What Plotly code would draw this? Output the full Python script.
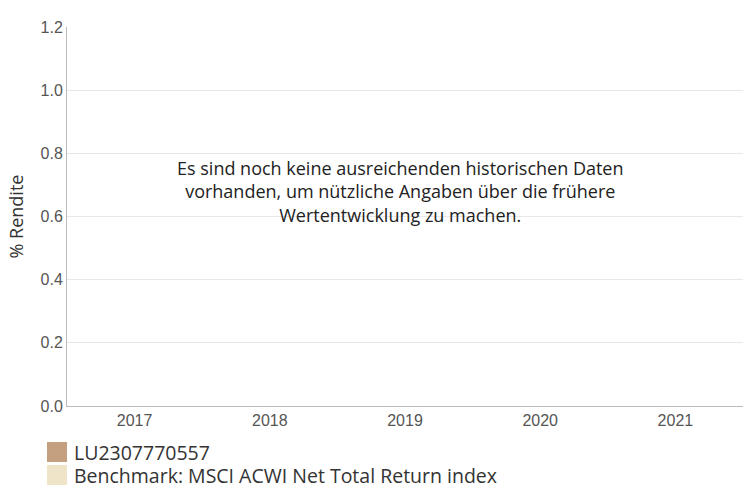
import plotly.graph_objects as go

years = ["2017", "2018", "2019", "2020", "2021"]
fund_values = [None, None, None, None, None]
bench_values = [None, None, None, None, None]
series_names = ["LU2307770557", "Benchmark: MSCI ACWI Net Total Return index"]
series_colors = ["#c4a080", "#efe4c8"]
y_ticks = [0.0, 0.2, 0.4, 0.6, 0.8, 1.0, 1.2]
message = ("Es sind noch keine ausreichenden historischen Daten<br>"
           "vorhanden, um nützliche Angaben über die frühere<br>"
           "Wertentwicklung zu machen.")

W, H = 744, 487
ML, MR, MT, MB = 67, 1, 27, 81
PW, PH = W - ML - MR, H - MT - MB


def px_x(px):
    return (px - ML) / PW


def px_y(py):
    return (H - MB - py) / PH


fig = go.Figure()
for name, vals, col in zip(series_names, [fund_values, bench_values], series_colors):
    fig.add_trace(go.Bar(x=years, y=vals, name=name, marker_color=col, showlegend=False))

# legend drawn as swatches + text
for i, (name, col) in enumerate(zip(series_names, series_colors)):
    top = 442 + i * 23
    fig.add_shape(type="rect", xref="paper", yref="paper",
                  x0=px_x(47), x1=px_x(67), y0=px_y(top), y1=px_y(top + 20),
                  fillcolor=col, line=dict(width=0), layer="above")
    fig.add_annotation(xref="paper", yref="paper", x=px_x(73), y=px_y(top + 10),
                       text=name, showarrow=False, xanchor="left", yanchor="middle",
                       font=dict(size=19.5, color="#333"), borderpad=0)

fig.update_layout(
    width=W, height=H,
    margin=dict(l=ML, r=MR, t=MT, b=MB, autoexpand=False),
    paper_bgcolor="white", plot_bgcolor="white",
    font=dict(family="Open Sans, Noto Sans, sans-serif", color="#333"),
    showlegend=False,
    bargap=0.2,
)
fig.update_xaxes(
    type="category", range=[-0.5, 4.5],
    showline=True, linecolor="#bbbbbb", linewidth=1,
    ticks="", showgrid=False,
    tickfont=dict(family="Liberation Sans, Arial, sans-serif", size=16, color="#555"),
)
fig.update_yaxes(
    range=[0, 1.2], tickvals=y_ticks, tickformat=".1f",
    showline=True, linecolor="#bbbbbb", linewidth=1,
    showgrid=True, gridcolor="#e8e8e8", zeroline=False,
    ticks="", ticklen=0,
    tickfont=dict(family="Liberation Sans, Arial, sans-serif", size=16, color="#555"),
    title=dict(text="% Rendite", font=dict(size=18, color="#333"), standoff=12),
)
fig.add_annotation(
    xref="paper", yref="paper", x=px_x(400), y=px_y(191),
    text=message, showarrow=False, align="center",
    font=dict(size=18, color="#222"),
    xanchor="center", yanchor="middle",
)
fig.write_html("out.html")
